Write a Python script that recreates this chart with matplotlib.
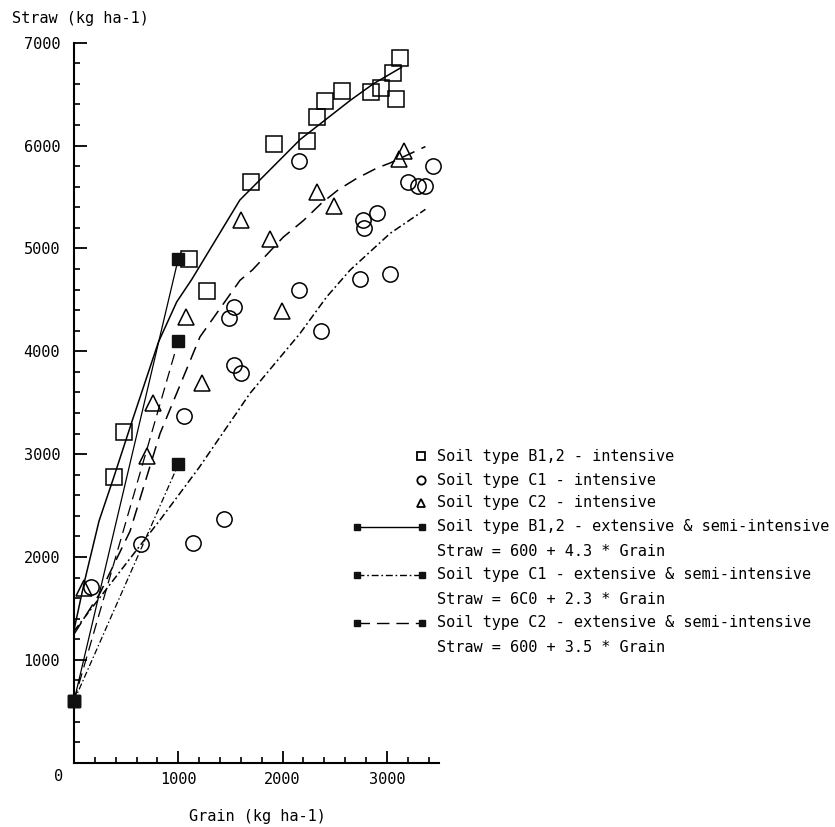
import matplotlib
matplotlib.use("Agg")
import matplotlib.pyplot as plt
from matplotlib.lines import Line2D
from matplotlib.ticker import MultipleLocator

plt.rcParams['font.family'] = ['DejaVu Sans Mono', 'DejaVu Sans']
plt.rcParams['font.size'] = 11

# Soil type B1,2 - intensive (open squares)
b12_grain = [380, 480, 1100, 1280, 1700, 1920, 2230, 2330, 2410, 2570, 2850, 2940, 3060, 3130, 3090]
b12_straw = [2780, 3220, 4900, 4590, 5650, 6020, 6040, 6280, 6430, 6530, 6520, 6560, 6710, 6850, 6450]

# Soil type C1 - intensive (open circles)
c1_grain = [160, 640, 1140, 1440, 1050, 1530, 1600, 1490, 1530, 2160, 2370, 2740, 3030,
            2160, 2770, 2780, 2910, 3200, 3300, 3370, 3440]
c1_straw = [1710, 2130, 2140, 2370, 3370, 3870, 3790, 4320, 4430, 4600, 4200, 4700, 4750,
            5850, 5280, 5200, 5340, 5650, 5610, 5610, 5800]

# Soil type C2 - intensive (open triangles)
c2_grain = [96, 700, 760, 1230, 1070, 1990, 1880, 1600, 2330, 2490, 3120, 3160]
c2_straw = [1695, 2980, 3500, 3690, 4330, 4390, 5090, 5280, 5550, 5410, 5870, 5950]

# fitted curves for the intensive data
b12_fit_grain = [0, 100, 240, 383, 560, 810, 985, 1130, 1590, 2170, 2650, 2870, 3140]
b12_fit_straw = [1290, 1760, 2350, 2780, 3330, 4090, 4480, 4700, 5470, 6060, 6440, 6600, 6760]

c1_fit_grain = [0, 640, 825, 1200, 1687, 2167, 2423, 2646, 3030, 3370]
c1_fit_straw = [1280, 2120, 2360, 2870, 3590, 4173, 4529, 4788, 5145, 5380]

c2_fit_grain = [0, 250, 537, 825, 1208, 1592, 1710, 2007, 2199, 2374, 2534, 2710, 2902, 3030, 3370]
c2_fit_straw = [1250, 1650, 2250, 3200, 4140, 4690, 4790, 5110, 5270, 5440, 5570, 5680, 5780, 5830, 5990]

# extensive & semi-intensive: Straw = 600 + k * Grain
ext_grain = [0, 1000]
b12_ext = [600, 4900]
c1_ext = [600, 2900]
c2_ext = [600, 4100]

ls_c1 = (0, (5, 2, 1.2, 2))
ls_c2 = (0, (9, 5))

fig = plt.figure(figsize=(8.35, 8.27), dpi=100)
ax = fig.add_axes([74 / 835, 1 - 762.7 / 827, 365 / 835, 720 / 827])

# straight extensive lines
ax.plot(ext_grain, b12_ext, color='black', lw=0.9, ls='-', marker='s', ms=8,
        mfc='#111111', mec='#111111', clip_on=False, zorder=4)
ax.plot(ext_grain, c1_ext, color='black', lw=0.9, ls=ls_c1, marker='s', ms=8,
        mfc='#111111', mec='#111111', clip_on=False, zorder=4)
ax.plot(ext_grain, c2_ext, color='black', lw=0.9, ls=ls_c2, marker='s', ms=8,
        mfc='#111111', mec='#111111', clip_on=False, zorder=4)

# fitted curves
ax.plot(b12_fit_grain, b12_fit_straw, color='black', lw=1.1, ls='-')
ax.plot(c1_fit_grain, c1_fit_straw, color='black', lw=1.1, ls=ls_c1)
ax.plot(c2_fit_grain, c2_fit_straw, color='black', lw=1.1, ls=ls_c2)

# observations
ax.plot(b12_grain, b12_straw, ls='none', marker='s', ms=12, mfc='none', mec='black', mew=1.1, clip_on=False)
ax.plot(c1_grain, c1_straw, ls='none', marker='o', ms=11, mfc='none', mec='black', mew=1.1, clip_on=False)
ax.plot(c2_grain, c2_straw, ls='none', marker='^', ms=11, mfc='none', mec='black', mew=1.1, clip_on=False)

ax.set_xlim(0, 3500)
ax.set_ylim(0, 7000)
for s in ['top', 'right']:
    ax.spines[s].set_visible(False)
ax.spines['left'].set_linewidth(1.5)
ax.spines['bottom'].set_linewidth(1.5)

ax.set_xticks([1000, 2000, 3000])
ax.set_yticks([1000, 2000, 3000, 4000, 5000, 6000, 7000])
ax.xaxis.set_minor_locator(MultipleLocator(200))
ax.yaxis.set_minor_locator(MultipleLocator(200))
ax.tick_params(which='major', direction='in', length=9, width=1.3, labelsize=11, color='black')
ax.tick_params(which='minor', direction='in', length=4.5, width=1.2, color='black')
ax.tick_params(axis='y', which='major', pad=10)
ax.tick_params(axis='x', which='major', pad=7)
ax.annotate('0', xy=(0, 0), xytext=(-11, -10), textcoords='offset points',
            ha='center', va='center', fontsize=11)

fig.text(12 / 835, 1 - 18 / 827, 'Straw (kg ha-1)', ha='left', va='center', fontsize=11)
fig.text(257 / 835, 1 - 817 / 827, 'Grain (kg ha-1)', ha='center', va='center', fontsize=11)

# legend, drawn by hand in figure pixels
def fx(px):
    return px / 835


def fy(py):
    return 1 - py / 827


rows = [456, 480, 503, 527, 551, 575, 599, 623, 647]
labels = ['Soil type B1,2 - intensive',
          'Soil type C1 - intensive',
          'Soil type C2 - intensive',
          'Soil type B1,2 - extensive & semi-intensive',
          'Straw = 600 + 4.3 * Grain',
          'Soil type C1 - extensive & semi-intensive',
          'Straw = 6C0 + 2.3 * Grain',
          'Soil type C2 - extensive & semi-intensive',
          'Straw = 600 + 3.5 * Grain']
for r, lab in zip(rows, labels):
    fig.text(fx(437), fy(r), lab, ha='left', va='center', fontsize=11)

for r, m in zip(rows[:3], ['s', 'o', '^']):
    fig.add_artist(Line2D([fx(421)], [fy(r)], transform=fig.transFigure, ls='none', marker=m,
                          ms=6, mfc='none', mec='black', mew=1.3))
for r, ls in zip([rows[3], rows[5], rows[7]], ['-', ls_c1, ls_c2]):
    fig.add_artist(Line2D([fx(357), fx(422)], [fy(r), fy(r)], transform=fig.transFigure,
                          color='black', lw=1.0, ls=ls, marker='s', ms=5,
                          mfc='#111111', mec='#111111'))

fig.savefig('out.png', dpi=100, facecolor='white')
